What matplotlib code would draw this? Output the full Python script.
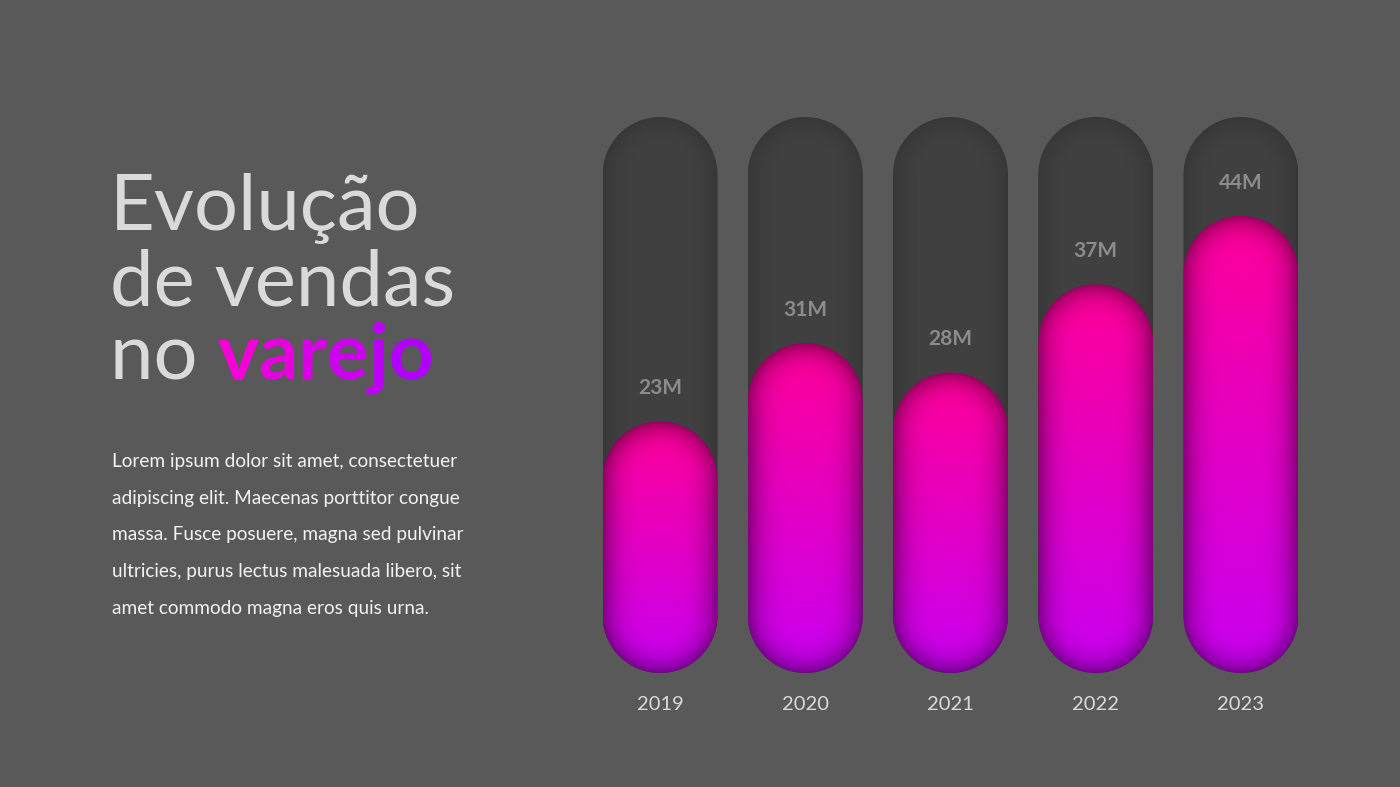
import numpy as np
import matplotlib
matplotlib.use("Agg")
import matplotlib.pyplot as plt
from matplotlib.path import Path
from matplotlib.patches import PathPatch
from matplotlib.colors import to_rgb

# data
years = ["2019", "2020", "2021", "2022", "2023"]
sales = [23, 31, 28, 37, 44]
value_labels = ["23M", "31M", "28M", "37M", "44M"]

title_lines = ["Evolução", "de vendas", "no "]
title_accent = "varejo"
body_lines = [
    "Lorem ipsum dolor sit amet, consectetuer",
    "adipiscing elit. Maecenas porttitor congue",
    "massa. Fusce posuere, magna sed pulvinar",
    "ultricies, purus lectus malesuada libero, sit",
    "amet commodo magna eros quis urna.",
]

BG = "#595959"
TRACK = "#414141"
TOP_PINK = "#ff0098"
BOT_VIOLET = "#c800f2"
FONT = ["Lato", "DejaVu Sans"]

W, H = 1400, 787
fig = plt.figure(figsize=(W / 100, H / 100), dpi=100, facecolor=BG)

# chart axes: value 0 sits a bit above the track bottom, like the source
ymin, ymax = -2.7, 54.1
ax = fig.add_axes([580 / W, (H - 673) / H, 740 / W, 556 / H])
ax.set_xlim(-0.551, 4.544)
ax.set_ylim(ymin, ymax)
ax.set_facecolor("none")
for s in ax.spines.values():
    s.set_visible(False)
ax.set_yticks([])
ax.set_xticks(range(len(years)))
ax.set_xticklabels(years, color="#d9d9d9", fontsize=14.5, family=FONT)
ax.tick_params(axis="x", length=0, pad=16.5)

# px per data unit
sx = 740 / (4.544 + 0.551)
sy = 556 / (ymax - ymin)
bar_w = 115 / sx
r_px = 57.5


def capsule(cx, y0, y1):
    rx = bar_w / 2
    ry = r_px / sy
    t = np.linspace(0, np.pi, 40)
    top = np.column_stack([cx + rx * np.cos(t), (y1 - ry) + ry * np.sin(t)])
    bot = np.column_stack([cx - rx * np.cos(t), (y0 + ry) - ry * np.sin(t)])
    pts = np.vstack([top, bot, top[:1]])
    codes = [Path.MOVETO] + [Path.LINETO] * (len(pts) - 2) + [Path.CLOSEPOLY]
    return Path(pts, codes)


def shaded(cx, y0, y1, c_top, c_bot, edge=0.35):
    nx, ny = 120, max(int((y1 - y0) * sy), 10)
    xs = np.linspace(cx - bar_w / 2, cx + bar_w / 2, nx)
    ys = np.linspace(y1, y0, ny)
    X, Y = np.meshgrid(xs, ys)
    ry = r_px / sy
    dx = (X - cx) * sx
    dy = np.where(Y > y1 - ry, (Y - (y1 - ry)) * sy,
                  np.where(Y < y0 + ry, ((y0 + ry) - Y) * sy, 0))
    d = np.clip(np.sqrt(dx ** 2 + dy ** 2) / r_px, 0, 1)
    tt = ((y1 - Y) / (y1 - y0))[..., None]
    col = (1 - tt) * np.array(to_rgb(c_top)) + tt * np.array(to_rgb(c_bot))
    shade = (1 - edge * d ** 4)[..., None]
    img = np.clip(col * shade, 0, 1)
    im = ax.imshow(img, extent=[xs[0], xs[-1], y0, y1], aspect="auto",
                   interpolation="bilinear", zorder=2)
    patch = PathPatch(capsule(cx, y0, y1), fc="none", ec="none")
    ax.add_patch(patch)
    im.set_clip_path(patch)


for i, v in enumerate(sales):
    shaded(i, ymin, ymax, TRACK, TRACK, edge=0.15)
    shaded(i, ymin, v, TOP_PINK, BOT_VIOLET, edge=0.4)
    ax.text(i, v + 3.4, value_labels[i], ha="center", va="center",
            fontsize=15, fontweight="bold", color="#8c8c8c", family=FONT, zorder=3)

ax.set_xlim(-0.551, 4.544)
ax.set_ylim(ymin, ymax)

# left title
tcol = "#dadada"
baselines = [230, 305, 380]
for line, yb in zip(title_lines, baselines):
    fig.text(110 / W, 1 - yb / H, line, fontsize=56, color=tcol, family=FONT,
             fontweight="normal", va="baseline", ha="left")

# accent word with gradient colours per letter
fig.canvas.draw()
rend = fig.canvas.get_renderer()
probe = fig.texts[-1]
x_px = probe.get_window_extent(rend).x1
accent_cols = np.linspace(0, 1, len(title_accent))
c0, c1 = np.array(to_rgb("#f400d8")), np.array(to_rgb("#b200ff"))
for ch, t in zip(title_accent, accent_cols):
    tx = fig.text(x_px / W, 1 - 380 / H, ch, fontsize=56, color=(1 - t) * c0 + t * c1,
                  family=FONT, fontweight="bold", va="baseline", ha="left")
    x_px = tx.get_window_extent(rend).x1

for k, line in enumerate(body_lines):
    fig.text(112 / W, 1 - (467 + 36.7 * k) / H, line, fontsize=13.7, color="#f2f2f2",
             family=FONT, va="baseline", ha="left")

fig.savefig("out.png", dpi=100, facecolor=BG)
